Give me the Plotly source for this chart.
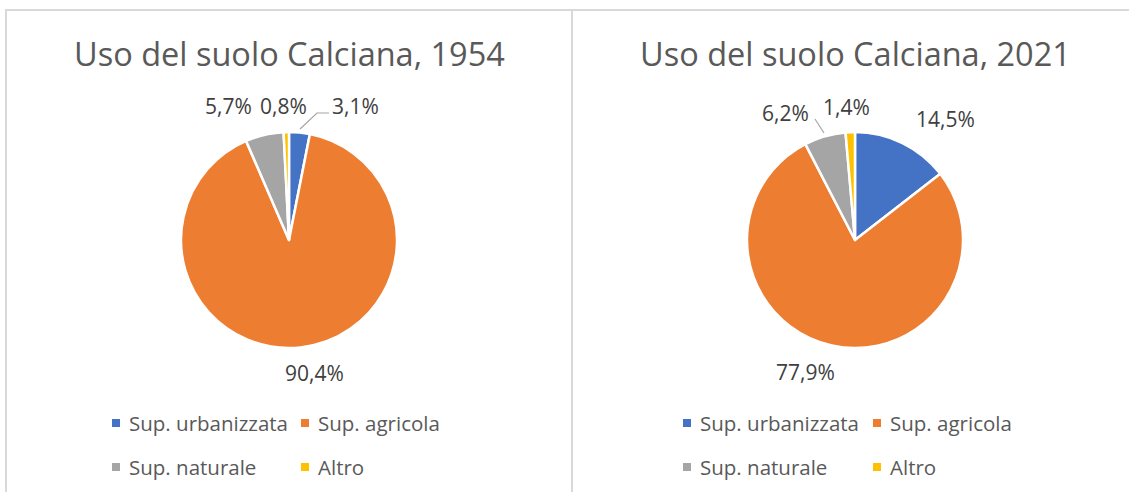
import plotly.graph_objects as go

# ---------------- data ----------------
categories = ["Sup. urbanizzata", "Sup. agricola", "Sup. naturale", "Altro"]
years = ["1954", "2021"]
values_1954 = [3.1, 90.4, 5.7, 0.8]
values_2021 = [14.5, 77.9, 6.2, 1.4]
title_prefix = "Uso del suolo Calciana, "

# ---------------- styles / layout ----------------
W, H = 1129, 492
colors = ["#4472C4", "#ED7D31", "#A5A5A5", "#FFC000"]
FONT = "Open Sans"
TITLE_COLOR = "#595959"
LABEL_COLOR = "#404040"
LEGEND_COLOR = "#595959"
BORDER_COLOR = "#D9D9D9"


def px(x):
    return x / W


def py(y):
    return 1 - y / H


# pie boxes in pixels: (left, right, top, bottom)
pie_boxes = [(181, 397, 132, 348), (747, 963, 132, 348)]
title_pos = [(289, 54), (855, 54)]
# data-label centres (pixels) per chart, in category order
label_pos = [
    [(355, 106), (314, 373), (228, 106), (283, 106)],
    [(945, 119), (805, 372), (785, 113), (846, 107)],
]
# leader lines (pixels) per chart, keyed by category index
leaders = [
    {0: [(300, 129), (317, 113), (329, 113)]},
    {2: [(824, 133), (815, 119)]},
]
# legend grid
legend_cols = [[116, 305], [687, 877]]
legend_rows = [423, 467]

fig = go.Figure()
annotations = []
shapes = []

for i, (year, vals) in enumerate(zip(years, [values_1954, values_2021])):
    l, r, t, b = pie_boxes[i]
    fig.add_trace(go.Pie(
        labels=categories,
        values=vals,
        sort=False,
        direction="clockwise",
        rotation=0,
        marker=dict(colors=colors, line=dict(color="white", width=2.5)),
        textinfo="none",
        hoverinfo="label+percent",
        showlegend=False,
        domain=dict(x=[px(l), px(r)], y=[py(b), py(t)]),
    ))
    # title
    tx, ty = title_pos[i]
    annotations.append(dict(
        text=title_prefix + year, x=px(tx), y=py(ty), xref="paper", yref="paper",
        xanchor="center", yanchor="middle", showarrow=False,
        font=dict(family=FONT, size=32.5, color=TITLE_COLOR),
    ))
    # data labels
    for k, v in enumerate(vals):
        lx, ly = label_pos[i][k]
        annotations.append(dict(
            text=f"{v:.1f}%".replace(".", ","), x=px(lx), y=py(ly),
            xref="paper", yref="paper", xanchor="center", yanchor="middle",
            showarrow=False, font=dict(family=FONT, size=21, color=LABEL_COLOR),
        ))
    for k, pts in leaders[i].items():
        path = "M " + " L ".join(f"{px(x)},{py(y)}" for x, y in pts)
        shapes.append(dict(type="path", path=path, xref="paper", yref="paper",
                           line=dict(color="#A6A6A6", width=1.2)))
    # legend (2 x 2 grid)
    for k, cat in enumerate(categories):
        cx = legend_cols[i][k % 2]
        cy = legend_rows[k // 2]
        shapes.append(dict(type="rect", xref="paper", yref="paper",
                           x0=px(cx - 4), x1=px(cx + 4), y0=py(cy + 4), y1=py(cy - 4),
                           fillcolor=colors[k], line=dict(width=0)))
        annotations.append(dict(
            text=cat, x=px(cx + 11), y=py(cy), xref="paper", yref="paper",
            xanchor="left", yanchor="middle", showarrow=False,
            font=dict(family=FONT, size=20.5, color=LEGEND_COLOR),
        ))

# chart-area borders
for x0, x1 in [(6, 572), (572, 1140)]:
    shapes.append(dict(type="path", xref="paper", yref="paper",
                       path=f"M {px(x0)},{py(H + 5)} L {px(x0)},{py(10)} L {px(x1)},{py(10)}",
                       line=dict(color=BORDER_COLOR, width=2)))

fig.update_layout(
    width=W, height=H,
    margin=dict(l=0, r=0, t=0, b=0),
    paper_bgcolor="white",
    plot_bgcolor="white",
    showlegend=False,
    annotations=annotations,
    shapes=shapes,
    font=dict(family=FONT),
)

fig.write_html(
    "out.html",
    config={"displayModeBar": False},
    post_script="document.body.style.margin='0';document.body.style.overflow='hidden';",
)
